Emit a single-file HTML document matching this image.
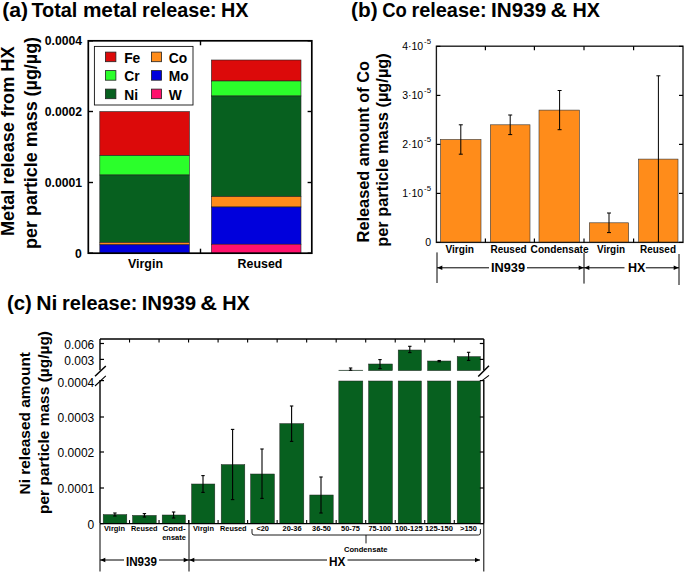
<!DOCTYPE html>
<html><head><meta charset="utf-8"><title>Metal release figure</title>
<style>
html,body{margin:0;padding:0;background:#fff;}
svg{display:block;font-family:"Liberation Sans",sans-serif;}
text{fill:#000;}
</style></head><body>
<svg width="685" height="573" viewBox="0 0 685 573">
<rect width="685" height="573" fill="#fff"/>
<text x="2.20" y="17.30" font-size="19.3" font-weight="bold" text-anchor="start" textLength="26.00" lengthAdjust="spacingAndGlyphs">(a)</text>
<text x="31.40" y="17.30" font-size="19.3" font-weight="bold" text-anchor="start" textLength="46.00" lengthAdjust="spacingAndGlyphs">Total</text>
<text x="82.90" y="17.30" font-size="19.3" font-weight="bold" text-anchor="start" textLength="54.30" lengthAdjust="spacingAndGlyphs">metal</text>
<text x="142.00" y="17.30" font-size="19.3" font-weight="bold" text-anchor="start" textLength="74.70" lengthAdjust="spacingAndGlyphs">release:</text>
<text x="221.00" y="17.30" font-size="19.3" font-weight="bold" text-anchor="start" textLength="27.50" lengthAdjust="spacingAndGlyphs">HX</text>
<rect x="99.80" y="111.60" width="89.60" height="44.00" fill="#DC0A0A" stroke="#222" stroke-width="0.6"/>
<rect x="99.80" y="155.60" width="89.60" height="19.40" fill="#2BFF2B" stroke="#222" stroke-width="0.6"/>
<rect x="99.80" y="175.00" width="89.60" height="67.40" fill="#07601F" stroke="#222" stroke-width="0.6"/>
<rect x="99.80" y="242.60" width="89.60" height="2.20" fill="#FF8C1A" stroke="#222" stroke-width="0.6"/>
<rect x="99.80" y="244.80" width="89.60" height="8.40" fill="#0000DC" stroke="#222" stroke-width="0.6"/>
<rect x="211.40" y="60.00" width="89.60" height="21.00" fill="#DC0A0A" stroke="#222" stroke-width="0.6"/>
<rect x="211.40" y="81.00" width="89.60" height="15.00" fill="#2BFF2B" stroke="#222" stroke-width="0.6"/>
<rect x="211.40" y="96.00" width="89.60" height="100.60" fill="#07601F" stroke="#222" stroke-width="0.6"/>
<rect x="211.40" y="196.60" width="89.60" height="10.40" fill="#FF8C1A" stroke="#222" stroke-width="0.6"/>
<rect x="211.40" y="207.00" width="89.60" height="37.40" fill="#0000DC" stroke="#222" stroke-width="0.6"/>
<rect x="211.40" y="244.20" width="89.60" height="9.00" fill="#FF106C" stroke="#222" stroke-width="0.6"/>
<rect x="88.3" y="40.8" width="223.5" height="212.39999999999998" fill="none" stroke="#000" stroke-width="1.7"/>
<line x1="88.30" y1="253.20" x2="93.00" y2="253.20" stroke="#000" stroke-width="1.4"/>
<line x1="307.60" y1="253.20" x2="311.80" y2="253.20" stroke="#000" stroke-width="1.4"/>
<text x="81.80" y="257.50" font-size="12.2" font-weight="bold" text-anchor="end">0</text>
<line x1="88.30" y1="182.50" x2="93.00" y2="182.50" stroke="#000" stroke-width="1.4"/>
<line x1="307.60" y1="182.50" x2="311.80" y2="182.50" stroke="#000" stroke-width="1.4"/>
<text x="82.10" y="186.80" font-size="12.2" font-weight="bold" text-anchor="end">0.0001</text>
<line x1="88.30" y1="111.50" x2="93.00" y2="111.50" stroke="#000" stroke-width="1.4"/>
<line x1="307.60" y1="111.50" x2="311.80" y2="111.50" stroke="#000" stroke-width="1.4"/>
<text x="82.10" y="115.80" font-size="12.2" font-weight="bold" text-anchor="end">0.0002</text>
<line x1="88.30" y1="40.80" x2="93.00" y2="40.80" stroke="#000" stroke-width="1.4"/>
<line x1="307.60" y1="40.80" x2="311.80" y2="40.80" stroke="#000" stroke-width="1.4"/>
<text x="82.10" y="45.10" font-size="12.2" font-weight="bold" text-anchor="end">0.0004</text>
<line x1="200.50" y1="40.80" x2="200.50" y2="45.30" stroke="#000" stroke-width="1.4"/>
<line x1="200.50" y1="248.70" x2="200.50" y2="253.20" stroke="#000" stroke-width="1.4"/>
<rect x="94.4" y="46.4" width="98.6" height="58.6" fill="#fff" stroke="#111" stroke-width="0.9"/>
<rect x="105.40" y="52.10" width="10.50" height="9.60" fill="#DC0A0A" stroke="#222" stroke-width="0.8"/>
<text x="124.20" y="62.60" font-size="13.8" font-weight="bold" text-anchor="start">Fe</text>
<rect x="105.40" y="70.60" width="10.50" height="9.60" fill="#2BFF2B" stroke="#222" stroke-width="0.8"/>
<text x="124.20" y="81.10" font-size="13.8" font-weight="bold" text-anchor="start">Cr</text>
<rect x="105.40" y="89.10" width="10.50" height="9.60" fill="#07601F" stroke="#222" stroke-width="0.8"/>
<text x="124.20" y="99.60" font-size="13.8" font-weight="bold" text-anchor="start">Ni</text>
<rect x="151.40" y="52.10" width="10.20" height="9.60" fill="#FF8C1A" stroke="#222" stroke-width="0.8"/>
<text x="168.80" y="62.60" font-size="13.8" font-weight="bold" text-anchor="start">Co</text>
<rect x="151.40" y="70.60" width="10.20" height="9.60" fill="#0000DC" stroke="#222" stroke-width="0.8"/>
<text x="168.80" y="81.10" font-size="13.8" font-weight="bold" text-anchor="start">Mo</text>
<rect x="151.40" y="89.10" width="10.20" height="9.60" fill="#FF106C" stroke="#222" stroke-width="0.8"/>
<text x="168.80" y="99.60" font-size="13.8" font-weight="bold" text-anchor="start">W</text>
<text x="128.00" y="268.40" font-size="12" font-weight="bold" text-anchor="start" textLength="35.00" lengthAdjust="spacingAndGlyphs">Virgin</text>
<text x="237.60" y="268.40" font-size="12" font-weight="bold" text-anchor="start" textLength="44.80" lengthAdjust="spacingAndGlyphs">Reused</text>
<text transform="translate(14.40,236.00) rotate(-90)" font-size="18.4" font-weight="bold" textLength="189.50" lengthAdjust="spacingAndGlyphs">Metal release from HX</text>
<text transform="translate(37.20,248.90) rotate(-90)" font-size="17.8" font-weight="bold" textLength="212.00" lengthAdjust="spacingAndGlyphs">per particle mass (µg/µg)</text>
<text x="351.00" y="17.30" font-size="19.3" font-weight="bold" text-anchor="start" textLength="26.60" lengthAdjust="spacingAndGlyphs">(b)</text>
<text x="382.20" y="17.30" font-size="19.3" font-weight="bold" text-anchor="start" textLength="24.60" lengthAdjust="spacingAndGlyphs">Co</text>
<text x="411.40" y="17.30" font-size="19.3" font-weight="bold" text-anchor="start" textLength="75.30" lengthAdjust="spacingAndGlyphs">release:</text>
<text x="491.00" y="17.30" font-size="19.3" font-weight="bold" text-anchor="start" textLength="55.20" lengthAdjust="spacingAndGlyphs">IN939</text>
<text x="550.60" y="17.30" font-size="19.3" font-weight="bold" text-anchor="start" textLength="16.50" lengthAdjust="spacingAndGlyphs">&amp;</text>
<text x="572.50" y="17.30" font-size="19.3" font-weight="bold" text-anchor="start" textLength="27.50" lengthAdjust="spacingAndGlyphs">HX</text>
<rect x="440.60" y="139.50" width="40.40" height="102.90" fill="#FF8C1A" stroke="#333" stroke-width="0.6"/>
<rect x="490.40" y="124.80" width="39.60" height="117.60" fill="#FF8C1A" stroke="#333" stroke-width="0.6"/>
<rect x="539.00" y="110.10" width="40.40" height="132.30" fill="#FF8C1A" stroke="#333" stroke-width="0.6"/>
<rect x="589.40" y="222.80" width="39.20" height="19.60" fill="#FF8C1A" stroke="#333" stroke-width="0.6"/>
<rect x="638.60" y="159.10" width="39.40" height="83.30" fill="#FF8C1A" stroke="#333" stroke-width="0.6"/>
<line x1="460.80" y1="124.80" x2="460.80" y2="154.20" stroke="#000" stroke-width="1.0"/>
<line x1="458.80" y1="124.80" x2="462.80" y2="124.80" stroke="#000" stroke-width="1.0"/>
<line x1="458.80" y1="154.20" x2="462.80" y2="154.20" stroke="#000" stroke-width="1.0"/>
<line x1="510.20" y1="115.00" x2="510.20" y2="134.60" stroke="#000" stroke-width="1.0"/>
<line x1="508.20" y1="115.00" x2="512.20" y2="115.00" stroke="#000" stroke-width="1.0"/>
<line x1="508.20" y1="134.60" x2="512.20" y2="134.60" stroke="#000" stroke-width="1.0"/>
<line x1="559.60" y1="90.50" x2="559.60" y2="129.70" stroke="#000" stroke-width="1.0"/>
<line x1="557.60" y1="90.50" x2="561.60" y2="90.50" stroke="#000" stroke-width="1.0"/>
<line x1="557.60" y1="129.70" x2="561.60" y2="129.70" stroke="#000" stroke-width="1.0"/>
<line x1="609.00" y1="213.00" x2="609.00" y2="232.60" stroke="#000" stroke-width="1.0"/>
<line x1="607.00" y1="213.00" x2="611.00" y2="213.00" stroke="#000" stroke-width="1.0"/>
<line x1="607.00" y1="232.60" x2="611.00" y2="232.60" stroke="#000" stroke-width="1.0"/>
<line x1="658.40" y1="75.80" x2="658.40" y2="242.40" stroke="#000" stroke-width="1.0"/>
<line x1="656.40" y1="75.80" x2="660.40" y2="75.80" stroke="#000" stroke-width="1.0"/>
<line x1="656.40" y1="242.40" x2="660.40" y2="242.40" stroke="#000" stroke-width="1.0"/>
<rect x="436.4" y="46.2" width="246.60000000000002" height="196.2" fill="none" stroke="#1a1a1a" stroke-width="1.35"/>
<line x1="436.40" y1="242.40" x2="440.40" y2="242.40" stroke="#000" stroke-width="1.2"/>
<line x1="679.00" y1="242.40" x2="683.00" y2="242.40" stroke="#000" stroke-width="1.2"/>
<text x="431.00" y="246.20" font-size="10.5" font-weight="normal" text-anchor="end">0</text>
<line x1="436.40" y1="193.40" x2="440.40" y2="193.40" stroke="#000" stroke-width="1.2"/>
<line x1="679.00" y1="193.40" x2="683.00" y2="193.40" stroke="#000" stroke-width="1.2"/>
<text x="431" y="197.20" font-size="10.5" text-anchor="end">1·10<tspan font-size="7.8" dx="0.9" dy="-5.8">-5</tspan></text>
<line x1="436.40" y1="144.40" x2="440.40" y2="144.40" stroke="#000" stroke-width="1.2"/>
<line x1="679.00" y1="144.40" x2="683.00" y2="144.40" stroke="#000" stroke-width="1.2"/>
<text x="431" y="148.20" font-size="10.5" text-anchor="end">2·10<tspan font-size="7.8" dx="0.9" dy="-5.8">-5</tspan></text>
<line x1="436.40" y1="95.40" x2="440.40" y2="95.40" stroke="#000" stroke-width="1.2"/>
<line x1="679.00" y1="95.40" x2="683.00" y2="95.40" stroke="#000" stroke-width="1.2"/>
<text x="431" y="99.20" font-size="10.5" text-anchor="end">3·10<tspan font-size="7.8" dx="0.9" dy="-5.8">-5</tspan></text>
<line x1="436.40" y1="46.40" x2="440.40" y2="46.40" stroke="#000" stroke-width="1.2"/>
<line x1="679.00" y1="46.40" x2="683.00" y2="46.40" stroke="#000" stroke-width="1.2"/>
<text x="431" y="50.20" font-size="10.5" text-anchor="end">4·10<tspan font-size="7.8" dx="0.9" dy="-5.8">-5</tspan></text>
<line x1="485.40" y1="46.20" x2="485.40" y2="50.20" stroke="#000" stroke-width="1.2"/>
<line x1="485.40" y1="238.40" x2="485.40" y2="242.40" stroke="#000" stroke-width="1.2"/>
<line x1="534.40" y1="46.20" x2="534.40" y2="50.20" stroke="#000" stroke-width="1.2"/>
<line x1="534.40" y1="238.40" x2="534.40" y2="242.40" stroke="#000" stroke-width="1.2"/>
<line x1="584.00" y1="46.20" x2="584.00" y2="50.20" stroke="#000" stroke-width="1.2"/>
<line x1="584.00" y1="238.40" x2="584.00" y2="242.40" stroke="#000" stroke-width="1.2"/>
<line x1="633.60" y1="46.20" x2="633.60" y2="50.20" stroke="#000" stroke-width="1.2"/>
<line x1="633.60" y1="238.40" x2="633.60" y2="242.40" stroke="#000" stroke-width="1.2"/>
<text x="445.40" y="253.30" font-size="10" font-weight="bold" text-anchor="start" textLength="28.60" lengthAdjust="spacingAndGlyphs">Virgin</text>
<text x="490.40" y="253.30" font-size="10" font-weight="bold" text-anchor="start" textLength="36.20" lengthAdjust="spacingAndGlyphs">Reused</text>
<text x="530.60" y="253.30" font-size="10" font-weight="bold" text-anchor="start" textLength="58.00" lengthAdjust="spacingAndGlyphs">Condensate</text>
<text x="597.00" y="253.30" font-size="10" font-weight="bold" text-anchor="start" textLength="28.00" lengthAdjust="spacingAndGlyphs">Virgin</text>
<text x="640.00" y="253.30" font-size="10" font-weight="bold" text-anchor="start" textLength="36.00" lengthAdjust="spacingAndGlyphs">Reused</text>
<line x1="437.00" y1="252.40" x2="437.00" y2="283.00" stroke="#000" stroke-width="1.0"/>
<line x1="584.00" y1="253.00" x2="584.00" y2="283.60" stroke="#000" stroke-width="1.0"/>
<line x1="679.00" y1="254.00" x2="679.00" y2="285.00" stroke="#000" stroke-width="1.0"/>
<line x1="437.00" y1="267.80" x2="489.00" y2="267.80" stroke="#000" stroke-width="1.0"/>
<line x1="527.00" y1="267.80" x2="584.00" y2="267.80" stroke="#000" stroke-width="1.0"/>
<line x1="584.00" y1="267.80" x2="624.50" y2="267.80" stroke="#000" stroke-width="1.0"/>
<line x1="645.80" y1="267.80" x2="679.00" y2="267.80" stroke="#000" stroke-width="1.0"/>
<polygon points="437.30,267.80 442.30,265.60 442.30,270.00" fill="#000"/>
<polygon points="583.70,267.80 578.70,265.60 578.70,270.00" fill="#000"/>
<polygon points="584.30,267.80 589.30,265.60 589.30,270.00" fill="#000"/>
<polygon points="678.70,267.80 673.70,265.60 673.70,270.00" fill="#000"/>
<text x="491.00" y="271.80" font-size="12.5" font-weight="bold" text-anchor="start" textLength="34.00" lengthAdjust="spacingAndGlyphs">IN939</text>
<text x="628.00" y="271.80" font-size="12.5" font-weight="bold" text-anchor="start" textLength="17.40" lengthAdjust="spacingAndGlyphs">HX</text>
<text transform="translate(369.20,242.40) rotate(-90)" font-size="16" font-weight="bold" textLength="181.40" lengthAdjust="spacingAndGlyphs">Released amount of Co</text>
<text transform="translate(388.20,246.80) rotate(-90)" font-size="16" font-weight="bold" textLength="193.60" lengthAdjust="spacingAndGlyphs">per particle mass (µg/µg)</text>
<text x="7.00" y="310.40" font-size="19.3" font-weight="bold" text-anchor="start" textLength="24.90" lengthAdjust="spacingAndGlyphs">(c)</text>
<text x="36.20" y="310.40" font-size="19.3" font-weight="bold" text-anchor="start" textLength="21.20" lengthAdjust="spacingAndGlyphs">Ni</text>
<text x="62.10" y="310.40" font-size="19.3" font-weight="bold" text-anchor="start" textLength="75.30" lengthAdjust="spacingAndGlyphs">release:</text>
<text x="141.70" y="310.40" font-size="19.3" font-weight="bold" text-anchor="start" textLength="54.50" lengthAdjust="spacingAndGlyphs">IN939</text>
<text x="200.30" y="310.40" font-size="19.3" font-weight="bold" text-anchor="start" textLength="16.80" lengthAdjust="spacingAndGlyphs">&amp;</text>
<text x="222.20" y="310.40" font-size="19.3" font-weight="bold" text-anchor="start" textLength="27.60" lengthAdjust="spacingAndGlyphs">HX</text>
<rect x="103.20" y="514.60" width="23.60" height="9.00" fill="#07601F" stroke="#222" stroke-width="0.5"/>
<rect x="132.60" y="515.40" width="23.60" height="8.20" fill="#07601F" stroke="#222" stroke-width="0.5"/>
<rect x="162.20" y="515.00" width="23.20" height="8.60" fill="#07601F" stroke="#222" stroke-width="0.5"/>
<rect x="191.60" y="484.00" width="23.20" height="39.60" fill="#07601F" stroke="#222" stroke-width="0.5"/>
<rect x="221.20" y="464.60" width="23.60" height="59.00" fill="#07601F" stroke="#222" stroke-width="0.5"/>
<rect x="250.60" y="474.00" width="23.80" height="49.60" fill="#07601F" stroke="#222" stroke-width="0.5"/>
<rect x="279.80" y="423.60" width="24.00" height="100.00" fill="#07601F" stroke="#222" stroke-width="0.5"/>
<rect x="309.80" y="495.00" width="23.40" height="28.60" fill="#07601F" stroke="#222" stroke-width="0.5"/>
<rect x="338.80" y="381.00" width="24.00" height="142.60" fill="#07601F" stroke="#222" stroke-width="0.5"/>
<rect x="338.80" y="370.20" width="24.00" height="0.40" fill="#07601F" stroke="#222" stroke-width="0.5"/>
<rect x="368.60" y="381.00" width="23.80" height="142.60" fill="#07601F" stroke="#222" stroke-width="0.5"/>
<rect x="368.60" y="364.00" width="23.80" height="6.60" fill="#07601F" stroke="#222" stroke-width="0.5"/>
<rect x="398.20" y="381.00" width="23.20" height="142.60" fill="#07601F" stroke="#222" stroke-width="0.5"/>
<rect x="398.20" y="350.00" width="23.20" height="20.60" fill="#07601F" stroke="#222" stroke-width="0.5"/>
<rect x="427.60" y="381.00" width="23.20" height="142.60" fill="#07601F" stroke="#222" stroke-width="0.5"/>
<rect x="427.60" y="361.00" width="23.20" height="9.60" fill="#07601F" stroke="#222" stroke-width="0.5"/>
<rect x="457.20" y="381.00" width="23.20" height="142.60" fill="#07601F" stroke="#222" stroke-width="0.5"/>
<rect x="457.20" y="356.60" width="23.20" height="14.00" fill="#07601F" stroke="#222" stroke-width="0.5"/>
<line x1="114.90" y1="513.00" x2="114.90" y2="516.00" stroke="#000" stroke-width="1.1"/>
<line x1="113.20" y1="513.00" x2="116.60" y2="513.00" stroke="#000" stroke-width="1.1"/>
<line x1="113.20" y1="516.00" x2="116.60" y2="516.00" stroke="#000" stroke-width="1.1"/>
<line x1="144.40" y1="513.60" x2="144.40" y2="517.00" stroke="#000" stroke-width="1.1"/>
<line x1="142.70" y1="513.60" x2="146.10" y2="513.60" stroke="#000" stroke-width="1.1"/>
<line x1="142.70" y1="517.00" x2="146.10" y2="517.00" stroke="#000" stroke-width="1.1"/>
<line x1="173.60" y1="512.00" x2="173.60" y2="518.00" stroke="#000" stroke-width="1.1"/>
<line x1="171.90" y1="512.00" x2="175.30" y2="512.00" stroke="#000" stroke-width="1.1"/>
<line x1="171.90" y1="518.00" x2="175.30" y2="518.00" stroke="#000" stroke-width="1.1"/>
<line x1="203.00" y1="475.60" x2="203.00" y2="492.40" stroke="#000" stroke-width="1.1"/>
<line x1="201.30" y1="475.60" x2="204.70" y2="475.60" stroke="#000" stroke-width="1.1"/>
<line x1="201.30" y1="492.40" x2="204.70" y2="492.40" stroke="#000" stroke-width="1.1"/>
<line x1="232.60" y1="429.40" x2="232.60" y2="499.60" stroke="#000" stroke-width="1.1"/>
<line x1="230.90" y1="429.40" x2="234.30" y2="429.40" stroke="#000" stroke-width="1.1"/>
<line x1="230.90" y1="499.60" x2="234.30" y2="499.60" stroke="#000" stroke-width="1.1"/>
<line x1="262.00" y1="449.00" x2="262.00" y2="498.40" stroke="#000" stroke-width="1.1"/>
<line x1="260.30" y1="449.00" x2="263.70" y2="449.00" stroke="#000" stroke-width="1.1"/>
<line x1="260.30" y1="498.40" x2="263.70" y2="498.40" stroke="#000" stroke-width="1.1"/>
<line x1="291.60" y1="406.00" x2="291.60" y2="441.40" stroke="#000" stroke-width="1.1"/>
<line x1="289.90" y1="406.00" x2="293.30" y2="406.00" stroke="#000" stroke-width="1.1"/>
<line x1="289.90" y1="441.40" x2="293.30" y2="441.40" stroke="#000" stroke-width="1.1"/>
<line x1="321.00" y1="477.00" x2="321.00" y2="513.00" stroke="#000" stroke-width="1.1"/>
<line x1="319.30" y1="477.00" x2="322.70" y2="477.00" stroke="#000" stroke-width="1.1"/>
<line x1="319.30" y1="513.00" x2="322.70" y2="513.00" stroke="#000" stroke-width="1.1"/>
<line x1="350.60" y1="368.00" x2="350.60" y2="370.20" stroke="#000" stroke-width="1.1"/>
<line x1="348.90" y1="368.00" x2="352.30" y2="368.00" stroke="#000" stroke-width="1.1"/>
<line x1="348.90" y1="370.20" x2="352.30" y2="370.20" stroke="#000" stroke-width="1.1"/>
<line x1="380.00" y1="359.60" x2="380.00" y2="368.60" stroke="#000" stroke-width="1.1"/>
<line x1="378.30" y1="359.60" x2="381.70" y2="359.60" stroke="#000" stroke-width="1.1"/>
<line x1="378.30" y1="368.60" x2="381.70" y2="368.60" stroke="#000" stroke-width="1.1"/>
<line x1="409.80" y1="346.30" x2="409.80" y2="352.60" stroke="#000" stroke-width="1.1"/>
<line x1="408.10" y1="346.30" x2="411.50" y2="346.30" stroke="#000" stroke-width="1.1"/>
<line x1="408.10" y1="352.60" x2="411.50" y2="352.60" stroke="#000" stroke-width="1.1"/>
<line x1="439.20" y1="360.50" x2="439.20" y2="361.80" stroke="#000" stroke-width="1.1"/>
<line x1="437.50" y1="360.50" x2="440.90" y2="360.50" stroke="#000" stroke-width="1.1"/>
<line x1="437.50" y1="361.80" x2="440.90" y2="361.80" stroke="#000" stroke-width="1.1"/>
<line x1="468.60" y1="352.30" x2="468.60" y2="360.40" stroke="#000" stroke-width="1.1"/>
<line x1="466.90" y1="352.30" x2="470.30" y2="352.30" stroke="#000" stroke-width="1.1"/>
<line x1="466.90" y1="360.40" x2="470.30" y2="360.40" stroke="#000" stroke-width="1.1"/>
<line x1="100.00" y1="339.00" x2="483.80" y2="339.00" stroke="#000" stroke-width="1.4"/>
<line x1="100.00" y1="523.60" x2="483.80" y2="523.60" stroke="#000" stroke-width="1.4"/>
<line x1="100.00" y1="339.00" x2="100.00" y2="370.30" stroke="#000" stroke-width="1.4"/>
<line x1="100.00" y1="380.00" x2="100.00" y2="523.60" stroke="#000" stroke-width="1.4"/>
<line x1="100.00" y1="523.60" x2="100.00" y2="571.50" stroke="#000" stroke-width="1.0"/>
<line x1="483.80" y1="339.00" x2="483.80" y2="370.30" stroke="#000" stroke-width="1.4"/>
<line x1="483.80" y1="380.00" x2="483.80" y2="523.60" stroke="#000" stroke-width="1.4"/>
<line x1="483.80" y1="523.60" x2="483.80" y2="571.50" stroke="#000" stroke-width="1.0"/>
<line x1="189.00" y1="520.00" x2="189.00" y2="571.50" stroke="#000" stroke-width="1.0"/>
<line x1="95.00" y1="376.20" x2="105.80" y2="366.00" stroke="#000" stroke-width="1.5"/>
<line x1="95.00" y1="386.00" x2="105.80" y2="375.90" stroke="#000" stroke-width="1.1"/>
<line x1="478.20" y1="376.50" x2="489.00" y2="365.70" stroke="#000" stroke-width="1.5"/>
<line x1="482.40" y1="380.40" x2="489.00" y2="375.40" stroke="#000" stroke-width="1.1"/>
<line x1="100.00" y1="343.50" x2="104.00" y2="343.50" stroke="#000" stroke-width="1.2"/>
<line x1="479.80" y1="343.50" x2="483.80" y2="343.50" stroke="#000" stroke-width="1.2"/>
<text x="94.30" y="349.20" font-size="12" font-weight="normal" text-anchor="end">0.006</text>
<line x1="100.00" y1="359.40" x2="104.00" y2="359.40" stroke="#000" stroke-width="1.2"/>
<line x1="479.80" y1="359.40" x2="483.80" y2="359.40" stroke="#000" stroke-width="1.2"/>
<text x="94.30" y="365.10" font-size="12" font-weight="normal" text-anchor="end">0.003</text>
<line x1="100.00" y1="380.60" x2="104.00" y2="380.60" stroke="#000" stroke-width="1.2"/>
<line x1="479.80" y1="380.60" x2="483.80" y2="380.60" stroke="#000" stroke-width="1.2"/>
<text x="94.30" y="386.80" font-size="12" font-weight="normal" text-anchor="end">0.0004</text>
<line x1="100.00" y1="417.00" x2="104.00" y2="417.00" stroke="#000" stroke-width="1.2"/>
<line x1="479.80" y1="417.00" x2="483.80" y2="417.00" stroke="#000" stroke-width="1.2"/>
<text x="94.30" y="422.40" font-size="12" font-weight="normal" text-anchor="end">0.0003</text>
<line x1="100.00" y1="452.00" x2="104.00" y2="452.00" stroke="#000" stroke-width="1.2"/>
<line x1="479.80" y1="452.00" x2="483.80" y2="452.00" stroke="#000" stroke-width="1.2"/>
<text x="94.30" y="457.40" font-size="12" font-weight="normal" text-anchor="end">0.0002</text>
<line x1="100.00" y1="488.00" x2="104.00" y2="488.00" stroke="#000" stroke-width="1.2"/>
<line x1="479.80" y1="488.00" x2="483.80" y2="488.00" stroke="#000" stroke-width="1.2"/>
<text x="94.30" y="493.40" font-size="12" font-weight="normal" text-anchor="end">0.0001</text>
<line x1="100.00" y1="523.60" x2="104.00" y2="523.60" stroke="#000" stroke-width="1.2"/>
<line x1="479.80" y1="523.60" x2="483.80" y2="523.60" stroke="#000" stroke-width="1.2"/>
<text x="94.30" y="529.00" font-size="12" font-weight="normal" text-anchor="end">0</text>
<line x1="129.52" y1="339.00" x2="129.52" y2="342.50" stroke="#000" stroke-width="1.1"/>
<line x1="129.52" y1="520.10" x2="129.52" y2="523.60" stroke="#000" stroke-width="1.1"/>
<line x1="159.05" y1="339.00" x2="159.05" y2="342.50" stroke="#000" stroke-width="1.1"/>
<line x1="159.05" y1="520.10" x2="159.05" y2="523.60" stroke="#000" stroke-width="1.1"/>
<line x1="188.57" y1="339.00" x2="188.57" y2="342.50" stroke="#000" stroke-width="1.1"/>
<line x1="188.57" y1="520.10" x2="188.57" y2="523.60" stroke="#000" stroke-width="1.1"/>
<line x1="218.09" y1="339.00" x2="218.09" y2="342.50" stroke="#000" stroke-width="1.1"/>
<line x1="218.09" y1="520.10" x2="218.09" y2="523.60" stroke="#000" stroke-width="1.1"/>
<line x1="247.62" y1="339.00" x2="247.62" y2="342.50" stroke="#000" stroke-width="1.1"/>
<line x1="247.62" y1="520.10" x2="247.62" y2="523.60" stroke="#000" stroke-width="1.1"/>
<line x1="277.14" y1="339.00" x2="277.14" y2="342.50" stroke="#000" stroke-width="1.1"/>
<line x1="277.14" y1="520.10" x2="277.14" y2="523.60" stroke="#000" stroke-width="1.1"/>
<line x1="306.66" y1="339.00" x2="306.66" y2="342.50" stroke="#000" stroke-width="1.1"/>
<line x1="306.66" y1="520.10" x2="306.66" y2="523.60" stroke="#000" stroke-width="1.1"/>
<line x1="336.18" y1="339.00" x2="336.18" y2="342.50" stroke="#000" stroke-width="1.1"/>
<line x1="336.18" y1="520.10" x2="336.18" y2="523.60" stroke="#000" stroke-width="1.1"/>
<line x1="365.71" y1="339.00" x2="365.71" y2="342.50" stroke="#000" stroke-width="1.1"/>
<line x1="365.71" y1="520.10" x2="365.71" y2="523.60" stroke="#000" stroke-width="1.1"/>
<line x1="395.23" y1="339.00" x2="395.23" y2="342.50" stroke="#000" stroke-width="1.1"/>
<line x1="395.23" y1="520.10" x2="395.23" y2="523.60" stroke="#000" stroke-width="1.1"/>
<line x1="424.75" y1="339.00" x2="424.75" y2="342.50" stroke="#000" stroke-width="1.1"/>
<line x1="424.75" y1="520.10" x2="424.75" y2="523.60" stroke="#000" stroke-width="1.1"/>
<line x1="454.28" y1="339.00" x2="454.28" y2="342.50" stroke="#000" stroke-width="1.1"/>
<line x1="454.28" y1="520.10" x2="454.28" y2="523.60" stroke="#000" stroke-width="1.1"/>
<text x="104.00" y="531.00" font-size="7.5" font-weight="bold" text-anchor="start" textLength="21.00" lengthAdjust="spacingAndGlyphs">Virgin</text>
<text x="131.00" y="531.00" font-size="7.5" font-weight="bold" text-anchor="start" textLength="26.60" lengthAdjust="spacingAndGlyphs">Reused</text>
<text x="162.40" y="531.00" font-size="7.5" font-weight="bold" text-anchor="start" textLength="23.20" lengthAdjust="spacingAndGlyphs">Cond-</text>
<text x="193.00" y="531.00" font-size="7.5" font-weight="bold" text-anchor="start" textLength="21.00" lengthAdjust="spacingAndGlyphs">Virgin</text>
<text x="220.00" y="531.00" font-size="7.5" font-weight="bold" text-anchor="start" textLength="26.60" lengthAdjust="spacingAndGlyphs">Reused</text>
<text x="256.40" y="531.00" font-size="7.5" font-weight="bold" text-anchor="start" textLength="12.60" lengthAdjust="spacingAndGlyphs">&lt;20</text>
<text x="282.60" y="531.00" font-size="7.5" font-weight="bold" text-anchor="start" textLength="19.00" lengthAdjust="spacingAndGlyphs">20-36</text>
<text x="312.00" y="531.00" font-size="7.5" font-weight="bold" text-anchor="start" textLength="19.00" lengthAdjust="spacingAndGlyphs">36-50</text>
<text x="341.00" y="531.00" font-size="7.5" font-weight="bold" text-anchor="start" textLength="19.00" lengthAdjust="spacingAndGlyphs">50-75</text>
<text x="368.40" y="531.00" font-size="7.5" font-weight="bold" text-anchor="start" textLength="22.60" lengthAdjust="spacingAndGlyphs">75-100</text>
<text x="395.00" y="531.00" font-size="7.5" font-weight="bold" text-anchor="start" textLength="27.60" lengthAdjust="spacingAndGlyphs">100-125</text>
<text x="425.00" y="531.00" font-size="7.5" font-weight="bold" text-anchor="start" textLength="28.00" lengthAdjust="spacingAndGlyphs">125-150</text>
<text x="460.00" y="531.00" font-size="7.5" font-weight="bold" text-anchor="start" textLength="17.00" lengthAdjust="spacingAndGlyphs">&gt;150</text>
<text x="162.20" y="540.00" font-size="7.6" font-weight="bold" text-anchor="start" textLength="23.60" lengthAdjust="spacingAndGlyphs">ensate</text>
<path d="M252,529 V533 Q252,535 254,535 H478.4 Q480.4,535 480.4,533 V529 M366,535 V543.4" fill="none" stroke="#000" stroke-width="0.9"/>
<text x="344.00" y="551.80" font-size="7.7" font-weight="bold" text-anchor="start" textLength="43.40" lengthAdjust="spacingAndGlyphs">Condensate</text>
<line x1="100.00" y1="560.00" x2="124.00" y2="560.00" stroke="#000" stroke-width="1.0"/>
<line x1="159.00" y1="560.00" x2="189.00" y2="560.00" stroke="#000" stroke-width="1.0"/>
<line x1="189.00" y1="560.00" x2="327.00" y2="560.00" stroke="#000" stroke-width="1.0"/>
<line x1="347.50" y1="560.00" x2="480.00" y2="560.00" stroke="#000" stroke-width="1.0"/>
<polygon points="100.30,560.00 105.30,557.80 105.30,562.20" fill="#000"/>
<polygon points="188.70,560.00 183.70,557.80 183.70,562.20" fill="#000"/>
<polygon points="189.30,560.00 194.30,557.80 194.30,562.20" fill="#000"/>
<polygon points="480.00,560.00 475.00,557.80 475.00,562.20" fill="#000"/>
<text x="126.00" y="566.00" font-size="12.5" font-weight="bold" text-anchor="start" textLength="31.00" lengthAdjust="spacingAndGlyphs">IN939</text>
<text x="329.00" y="566.00" font-size="12.5" font-weight="bold" text-anchor="start" textLength="16.40" lengthAdjust="spacingAndGlyphs">HX</text>
<text transform="translate(29.60,494.50) rotate(-90)" font-size="14.5" font-weight="bold" textLength="142.50" lengthAdjust="spacingAndGlyphs">Ni released amount</text>
<text transform="translate(49.00,514.00) rotate(-90)" font-size="14.5" font-weight="bold" textLength="183.00" lengthAdjust="spacingAndGlyphs">per particle mass (µg/µg)</text>
</svg>
</body></html>
